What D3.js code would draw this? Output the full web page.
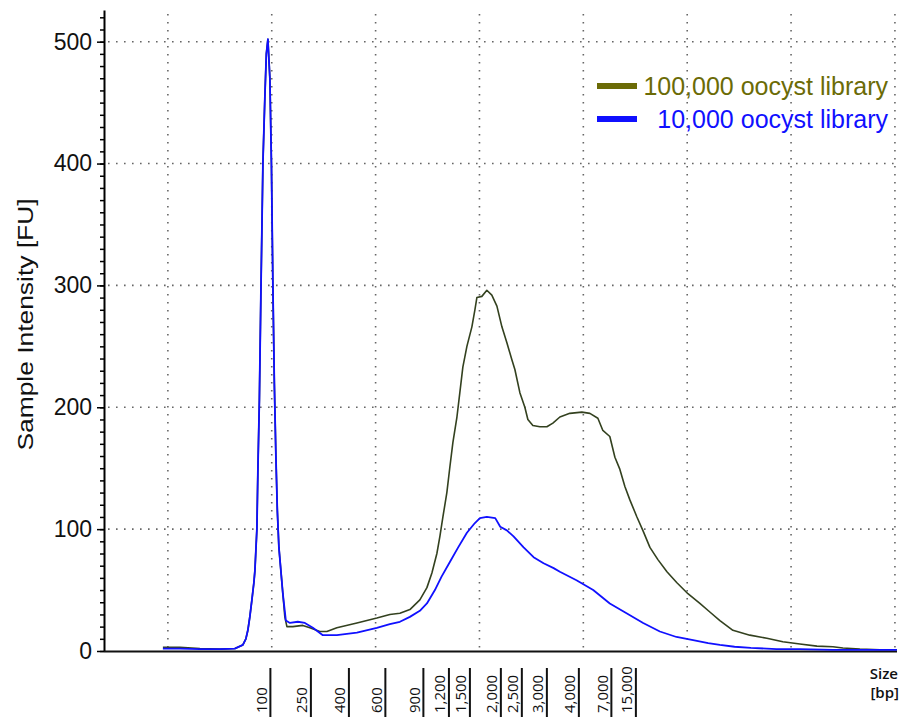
<!DOCTYPE html>
<html>
<head>
<meta charset="utf-8">
<script src="https://cdn.jsdelivr.net/npm/d3@7"></script>
<style>
  body { margin: 0; background: #fff; }
  svg { display: block; }
</style>
</head>
<body>
<div id="chart"></div>
<script>
const WIDTH = 903;
const HEIGHT = 722;

// migration time (s) and intensity (FU)
const timeA = [49.52, 51.16, 53.08, 55.01, 56.45, 57.22, 57.51, 57.70, 57.89, 58.09, 58.28, 58.38, 58.47, 58.57, 58.67,
  58.81, 58.95, 59.15, 59.34, 59.48, 59.63, 59.82, 59.97, 60.11, 60.25, 60.40, 60.54, 60.69, 60.88, 61.07, 61.26,
  61.46, 62.03, 62.99, 63.67, 64.63, 65.31, 66.27, 68.20, 70.12, 71.37, 72.34, 73.30, 74.26, 74.94, 75.42, 75.90,
  76.19, 76.48, 76.86, 77.15, 77.44, 77.83, 78.11, 78.40, 78.79, 79.27, 79.56, 79.75, 80.23, 80.71, 81.19, 81.68,
  82.16, 82.64, 83.12, 83.41, 83.89, 84.37, 84.66, 85.14, 85.82, 86.49, 87.07, 87.74, 88.70, 89.86, 90.63, 91.40,
  91.88, 92.55, 93.04, 93.52, 94.00, 94.48, 95.16, 95.73, 96.41, 97.18, 98.05, 99.01, 100.07, 101.22, 102.18,
  103.15, 104.40, 106.03, 107.67, 109.21, 110.85, 112.49, 114.03, 114.99, 116.63, 118.55, 120.19];
const lib100k = [3, 3, 2, 1.5, 2, 5, 10, 17, 28, 42, 56, 66, 82, 100, 150,
  206, 290, 400, 455, 490, 502, 470, 400, 300, 220, 160, 115, 85, 66, 47, 28,
  20, 20, 21, 19, 16, 16, 19, 23, 27, 30, 31, 34, 42, 52, 64, 80,
  94, 110, 130, 151, 171, 192, 212, 233, 250, 266, 280, 290, 291, 296, 292, 283,
  266, 253, 239, 231, 212, 200, 190, 185, 184, 184, 187, 192, 195, 196, 195, 191,
  181, 176, 159, 149, 135, 124, 110, 99, 85, 75, 65, 56, 47, 39, 32,
  25, 17, 13, 10.5, 7.6, 5.7, 4, 3.5, 2.5, 1.6, 1, 1];

const timeB = [49.52, 51.16, 53.08, 55.01, 56.45, 57.22, 57.51, 57.70, 57.89, 58.09, 58.28, 58.38, 58.47, 58.57, 58.67,
  58.81, 58.95, 59.15, 59.34, 59.48, 59.63, 59.82, 59.97, 60.11, 60.25, 60.40, 60.54, 60.69, 60.88, 61.07, 61.36,
  61.75, 62.51, 63.19, 63.96, 64.92, 66.27, 68.20, 70.12, 71.37, 72.34, 73.30, 74.26, 74.94, 75.71, 76.35, 77.15,
  77.95, 78.79, 79.56, 80.04, 80.71, 81.52, 82.00, 82.64, 83.28, 84.25, 85.21, 86.17, 87.14, 87.74, 89.34, 90.95,
  92.55, 94.16, 95.76, 97.37, 98.97, 100.57, 102.02, 103.15, 104.56, 106.13, 108.60, 110.85, 114.03, 120.19];
const lib10k = [2, 2, 1.5, 1.5, 2, 5, 10, 17, 28, 42, 56, 66, 82, 100, 150,
  206, 290, 400, 455, 490, 502, 470, 400, 300, 220, 160, 115, 85, 66, 47, 25,
  23, 24, 23, 19, 13, 13, 15, 19, 22, 24, 28, 33, 39, 50, 61, 73,
  85, 97, 105, 109, 110, 109, 102, 99, 94, 85, 77, 72, 68, 65, 58, 50,
  39, 31, 23, 16, 11.5, 9, 6.5, 5, 3.5, 2.5, 1.6, 1.6, 1, 1];

// ladder marker positions (s) and their sizes
const ladderTimes = [59.87, 63.77, 67.43, 70.94, 74.60, 77.06, 79.08, 82.06, 84.08, 86.49, 89.57, 92.70, 95.06];
const ladderLabels = ["100", "250", "400", "600", "900", "1,200", "1,500", "2,000", "2,500", "3,000", "4,000", "7,000", "15,000"];

const gridTimes = [50, 60, 70, 80, 90, 100, 110, 120];
const yTicks = [0, 100, 200, 300, 400, 500];
const yMinor = d3.range(0, 521, 10);

const seriesNames = ["100,000 oocyst library", "10,000 oocyst library"];
const LINE_A = "#33411f";
const LEGEND_A = "#6b6b06";
const BLUE = "#1010ff";

const x = d3.scaleLinear().domain([43.85, 120.2]).range([104, 897]);
const y = d3.scaleLinear().domain([0, 526]).range([651, 10]);

const svg = d3.select("#chart").append("svg")
  .attr("width", WIDTH)
  .attr("height", HEIGHT);

// dotted grid
const grid = svg.append("g")
  .attr("stroke", "#666")
  .attr("stroke-width", 1.6)
  .attr("stroke-dasharray", "1.6,6.4");

grid.selectAll(".hg")
  .data(yTicks.filter(d => d > 0))
  .enter().append("line")
  .attr("x1", x.range()[0] + 4)
  .attr("x2", x.range()[1])
  .attr("y1", d => y(d))
  .attr("y2", d => y(d));

grid.selectAll(".vg")
  .data(gridTimes)
  .enter().append("line")
  .attr("x1", d => x(d))
  .attr("x2", d => x(d))
  .attr("y1", 14)
  .attr("y2", y(0));

// y axis: minor then major ticks
svg.append("g")
  .attr("transform", `translate(${x.range()[0]},0)`)
  .call(d3.axisLeft(y).tickValues(yMinor).tickSize(4).tickSizeOuter(0).tickFormat(""))
  .call(g => g.select(".domain").remove())
  .selectAll("line").attr("stroke-width", 1.5);

const yAxis = svg.append("g")
  .attr("transform", `translate(${x.range()[0]},0)`)
  .call(d3.axisLeft(y).tickValues(yTicks).tickSize(7).tickSizeOuter(0).tickPadding(5));

yAxis.select(".domain").attr("stroke-width", 2);
yAxis.selectAll("line").attr("stroke-width", 1.5);
yAxis.selectAll("text")
  .attr("font-family", "'Liberation Sans', Arial, sans-serif")
  .attr("font-size", 23)
  .attr("fill", "#111");

svg.append("text")
  .attr("transform", `translate(33,${(y(0) + y(526)) / 2 - 6}) rotate(-90) scale(1.2,1)`)
  .attr("text-anchor", "middle")
  .attr("font-family", "'Liberation Sans', Arial, sans-serif")
  .attr("font-size", 22)
  .attr("fill", "#111")
  .text("Sample Intensity [FU]");

// x baseline
svg.append("line")
  .attr("x1", x.range()[0])
  .attr("x2", x.range()[1])
  .attr("y1", y(0) + 0.5)
  .attr("y2", y(0) + 0.5)
  .attr("stroke", "#111")
  .attr("stroke-width", 2.2);

// traces
const line = d3.line()
  .x(d => x(d[0]))
  .y(d => y(d[1]));

svg.append("path")
  .datum(d3.zip(timeA, lib100k))
  .attr("fill", "none")
  .attr("stroke", LINE_A)
  .attr("stroke-width", 1.6)
  .attr("stroke-linejoin", "round")
  .attr("d", line);

svg.append("path")
  .datum(d3.zip(timeB, lib10k))
  .attr("fill", "none")
  .attr("stroke", BLUE)
  .attr("stroke-width", 1.8)
  .attr("stroke-linejoin", "round")
  .attr("d", line);

// ladder markers
const ladder = svg.append("g");

ladder.selectAll("line")
  .data(ladderTimes)
  .enter().append("line")
  .attr("x1", d => x(d))
  .attr("x2", d => x(d))
  .attr("y1", 668)
  .attr("y2", 717)
  .attr("stroke", "#111")
  .attr("stroke-width", 2);

ladder.selectAll("text")
  .data(ladderTimes)
  .enter().append("text")
  .attr("transform", d => `translate(${x(d) - 3.5},713) rotate(-90)`)
  .attr("font-family", "'Open Sans', sans-serif")
  .attr("font-size", 15)
  .attr("fill", "#111")
  .text((d, i) => ladderLabels[i]);

svg.append("text")
  .attr("x", 898)
  .attr("y", 679)
  .attr("text-anchor", "end")
  .attr("font-family", "'Open Sans', sans-serif")
  .attr("font-weight", 600)
  .attr("font-size", 15)
  .attr("fill", "#111")
  .text("Size");

svg.append("text")
  .attr("x", 899)
  .attr("y", 698)
  .attr("text-anchor", "end")
  .attr("font-family", "'Open Sans', sans-serif")
  .attr("font-weight", 600)
  .attr("font-size", 15)
  .attr("fill", "#111")
  .text("[bp]");

// legend
const legend = svg.append("g");
const legendColors = [LEGEND_A, BLUE];
const legendY = [86, 119];

legend.selectAll("line")
  .data(seriesNames)
  .enter().append("line")
  .attr("x1", 597)
  .attr("x2", 637)
  .attr("y1", (d, i) => legendY[i])
  .attr("y2", (d, i) => legendY[i])
  .attr("stroke", (d, i) => legendColors[i])
  .attr("stroke-width", 6);

legend.selectAll("text")
  .data(seriesNames)
  .enter().append("text")
  .attr("x", 888)
  .attr("y", (d, i) => legendY[i] + 9)
  .attr("text-anchor", "end")
  .attr("font-family", "'Liberation Sans', Arial, sans-serif")
  .attr("font-size", 25)
  .attr("fill", (d, i) => legendColors[i])
  .text(d => d);
</script>
</body>
</html>
